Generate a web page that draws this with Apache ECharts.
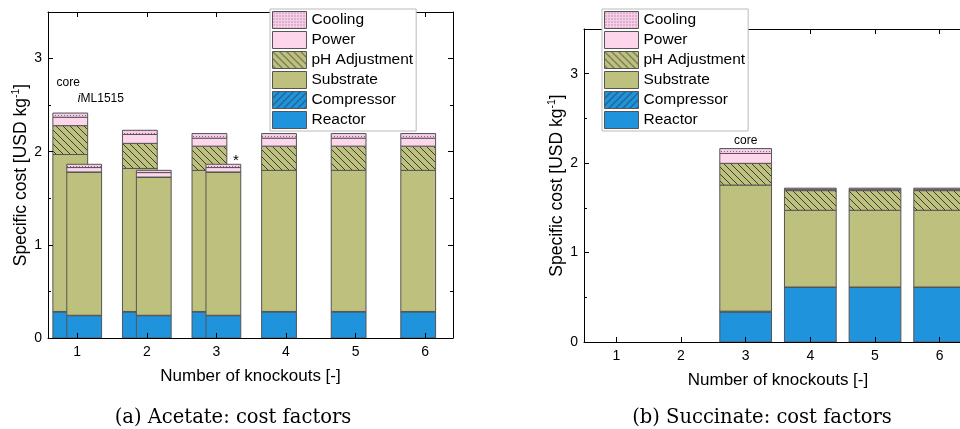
<!DOCTYPE html>
<html><head><meta charset="utf-8">
<script src="https://cdn.jsdelivr.net/npm/echarts@6/dist/echarts.min.js"></script>
<style>html,body{margin:0;padding:0;background:#fff}#c{width:960px;height:429px}</style>
</head><body><div id="c"></div>
<script>
// ---------------- data ----------------
const knockouts = [1, 2, 3, 4, 5, 6];
const componentNames = ['Reactor', 'Compressor', 'Substrate', 'pH Adjustment', 'Power', 'Cooling'];
const legendOrder = ['Cooling', 'Power', 'pH Adjustment', 'Substrate', 'Compressor', 'Reactor'];
const yMajorTicks = [0, 1, 2, 3];
const yMinorTicks = [0.5, 1.5, 2.5];

// (a) Acetate, core model, knockouts 1..6
const acCoreReactor    = [0.28, 0.28, 0.28, 0.28, 0.28, 0.28];
const acCoreCompressor = [0.005, 0.005, 0.005, 0.005, 0.005, 0.005];
const acCoreSubstrate  = [1.685, 1.535, 1.515, 1.515, 1.515, 1.515];
const acCorePH         = [0.31, 0.27, 0.26, 0.26, 0.26, 0.26];
const acCorePower      = [0.09, 0.095, 0.085, 0.085, 0.085, 0.085];
const acCoreCooling    = [0.045, 0.045, 0.05, 0.05, 0.05, 0.05];

// (a) Acetate, iML1515 model, knockouts 1..3
const acImlKnockouts   = [1, 2, 3];
const acImlReactor     = [0.24, 0.24, 0.24];
const acImlCompressor  = [0.004, 0.004, 0.004];
const acImlSubstrate   = [1.536, 1.481, 1.536];
const acImlPH          = [0.003, 0.003, 0.003];
const acImlPower       = [0.047, 0.048, 0.047];
const acImlCooling     = [0.035, 0.024, 0.035];

// (b) Succinate, core model, knockouts 3..6
const suKnockouts  = [3, 4, 5, 6];
const suReactor    = [0.335, 0.61, 0.61, 0.61];
const suCompressor = [0.01, 0.005, 0.005, 0.005];
const suSubstrate  = [1.41, 0.858, 0.858, 0.858];
const suPH         = [0.243, 0.22, 0.22, 0.22];
const suPower      = [0.11, 0.015, 0.015, 0.015];
const suCooling    = [0.055, 0.012, 0.012, 0.012];

// annotations
const notesA = [[0.87, 2.74], [1.34, 2.565], [3.28, 1.9]];
const notesATexts = ['core', '{it|i}ML1515', '*'];
const notesB = [[3, 2.25]];
const notesBTexts = ['core'];

const xNameText = 'Number of knockouts [-]';
const yNameText = 'Specific cost [USD kg{sup|-1}]';
const captionA = '(a) Acetate: cost factors';
const captionB = '(b) Succinate: cost factors';

// ---------------- styles ----------------
const FONT = 'Liberation Sans, Arial, Helvetica, sans-serif';
const SERIF = '19.5px DejaVu Serif, serif';
const C_REACTOR = '#1f93dc', C_SUB = '#bdc17d', C_POWER = '#fdd6ec', C_COOL = '#f7cde8';
const EDGE = '#555';

function makeTile(size, bg, draw) {
  const cv = document.createElement('canvas');
  cv.width = size; cv.height = size;
  const g = cv.getContext('2d');
  g.fillStyle = bg; g.fillRect(0, 0, size, size);
  draw(g, size);
  return { image: cv, repeat: 'repeat' };
}
function hatch(bg, dir) {
  return makeTile(7, bg, (g, s) => {
    g.strokeStyle = '#2e2e2e'; g.lineWidth = 0.9;
    for (const k of [-s, 0, s]) {
      g.beginPath();
      if (dir === 'back') { g.moveTo(k, 0); g.lineTo(k + s, s); }
      else { g.moveTo(k + s, 0); g.lineTo(k, s); }
      g.stroke();
    }
  });
}
const dots = makeTile(3, C_COOL, (g) => { g.fillStyle = '#8a5f7c'; g.fillRect(1, 1, 1, 1); });
const fills = [C_REACTOR, hatch(C_REACTOR, 'fwd'), C_SUB, hatch(C_SUB, 'back'), C_POWER, dots];

// ---------------- build ----------------
function buildStacks(xs, comps, offset) {
  const out = comps.map(() => []);
  xs.forEach((k, i) => {
    let base = 0;
    comps.forEach((arr, c) => { const top = base + arr[i]; out[c].push([k + offset, base, top]); base = top; });
  });
  return out;
}
const acCore = buildStacks(knockouts, [acCoreReactor, acCoreCompressor, acCoreSubstrate, acCorePH, acCorePower, acCoreCooling], -0.1);
const acIml = buildStacks(acImlKnockouts, [acImlReactor, acImlCompressor, acImlSubstrate, acImlPH, acImlPower, acImlCooling], 0.1);
const su = buildStacks(suKnockouts, [suReactor, suCompressor, suSubstrate, suPH, suPower, suCooling], 0);

function barSeries(name, c, xi, yi, data, w) {
  return {
    type: 'custom', name, xAxisIndex: xi, yAxisIndex: yi, data,
    encode: { x: 0, y: [1, 2] },
    itemStyle: { color: fills[c], borderColor: EDGE, borderWidth: 1 },
    silent: true,
    renderItem: (params, api) => {
      const x = api.value(0), y0 = api.value(1), y1 = api.value(2);
      const p0 = api.coord([x - w / 2, y1]);
      const p1 = api.coord([x + w / 2, y0]);
      return { type: 'rect', shape: { x: p0[0], y: p0[1], width: p1[0] - p0[0], height: p1[1] - p0[1] },
        style: { fill: fills[c], stroke: EDGE, lineWidth: 1 } };
    }
  };
}
function noteSeries(xi, yi, data, texts) {
  return {
    type: 'custom', name: 'notes', xAxisIndex: xi, yAxisIndex: yi, data, silent: true, z: 5,
    encode: { x: 0, y: 1 },
    renderItem: (params, api) => {
      const p = api.coord([api.value(0), api.value(1)]);
      const t = texts[params.dataIndex];
      const fs = t === '*' ? 15 : 12;
      return { type: 'text', x: p[0], y: p[1],
        style: { text: t, fill: '#000', fontSize: fs, fontFamily: FONT,
          font: fs + 'px ' + FONT, align: 'center', verticalAlign: 'middle',
          textAlign: 'center', textVerticalAlign: 'middle',
          rich: { it: { fontStyle: 'italic', fontSize: 12, fontFamily: FONT, fill: '#000' } } } };
    }
  };
}

const series = [];
componentNames.forEach((n, c) => series.push(barSeries(n, c, 0, 0, acCore[c].concat(acIml[c]), 0.5)));
componentNames.forEach((n, c) => series.push(barSeries(n, c, 2, 4, su[c], 0.8)));
series.push(noteSeries(0, 0, notesA, notesATexts));
series.push(noteSeries(2, 4, notesB, notesBTexts));

const axLine = { show: true, onZero: false, lineStyle: { color: '#000', width: 1 } };
function xAx(grid, pos, min, max, main) {
  return {
    type: 'value', gridIndex: grid, position: pos, min, max, z: 3,
    axisLine: axLine, splitLine: { show: false },
    axisTick: { show: true, inside: true, length: 5, customValues: knockouts, lineStyle: { color: '#000' } },
    axisLabel: main ? { show: true, customValues: knockouts, margin: 7, fontSize: 14, fontFamily: FONT, color: '#000' } : { show: false },
    name: main ? xNameText : '', nameLocation: 'middle', nameGap: 30,
    nameTextStyle: { fontSize: 17, fontFamily: FONT, color: '#000' }
  };
}
function yAx(grid, pos, major, main) {
  return {
    type: 'value', gridIndex: grid, position: pos, min: 0, max: 3.5, interval: 0.5, z: 3,
    axisLine: major ? axLine : { show: false, onZero: false },
    splitLine: { show: false },
    axisTick: { show: true, inside: true, length: major ? 5 : 3, customValues: major ? yMajorTicks : yMinorTicks, lineStyle: { color: '#000' } },
    axisLabel: main ? { show: true, customValues: yMajorTicks, margin: 6, fontSize: 14, fontFamily: FONT, color: '#000' } : { show: false },
    name: main ? yNameText : '', nameLocation: 'middle', nameGap: 17, nameMoveOverlap: false,
    nameTextStyle: { fontSize: 17.5, fontFamily: FONT, color: '#000', lineHeight: 20,
      rich: { sup: { fontSize: 10.5, fontFamily: FONT, color: '#000', verticalAlign: 'top', lineHeight: 11 } } }
  };
}
function legend(left) {
  return {
    orient: 'vertical', left, top: 9, data: legendOrder, icon: 'rect',
    itemWidth: 34, itemHeight: 17, itemGap: 2, padding: [2, 3, 2, 2],
    backgroundColor: '#fff', borderColor: '#bbb', borderWidth: 1, selectedMode: false,
    itemStyle: { borderColor: EDGE, borderWidth: 1 },
    textStyle: { fontSize: 15.5, fontFamily: FONT, color: '#000' }
  };
}

const option = {
  animation: false,
  backgroundColor: '#fff',
  grid: [
    { left: 48, top: 12, width: 405, height: 326, outerBoundsMode: 'none', containLabel: false },
    { left: 584, top: 29, width: 388, height: 313, outerBoundsMode: 'none', containLabel: false }
  ],
  xAxis: [xAx(0, 'bottom', 0.58, 6.4, true), xAx(0, 'top', 0.58, 6.4, false),
          xAx(1, 'bottom', 0.5, 6.5, true), xAx(1, 'top', 0.5, 6.5, false)],
  yAxis: [yAx(0, 'left', true, true), yAx(0, 'left', false, false),
          yAx(0, 'right', true, false), yAx(0, 'right', false, false),
          yAx(1, 'left', true, true), yAx(1, 'left', false, false)],
  legend: [legend(270), legend(602)],
  graphic: [
    { type: 'text', x: 233, y: 418, style: { text: captionA, font: SERIF, fill: '#000', align: 'center', verticalAlign: 'middle', textAlign: 'center', textVerticalAlign: 'middle' } },
    { type: 'text', x: 762, y: 418, style: { text: captionB, font: SERIF, fill: '#000', align: 'center', verticalAlign: 'middle', textAlign: 'center', textVerticalAlign: 'middle' } }
  ],
  series
};
const chart = echarts.init(document.getElementById('c'), null, { renderer: 'canvas' });
chart.setOption(option);
</script></body></html>
